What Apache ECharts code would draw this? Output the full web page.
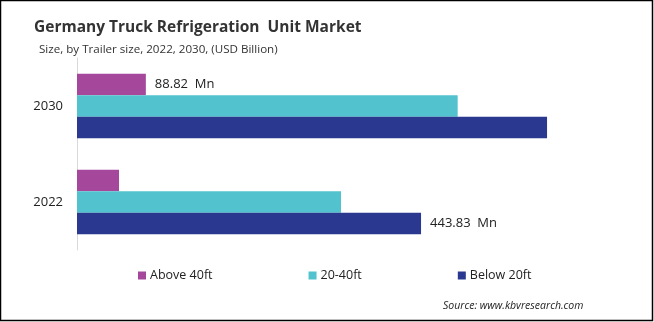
<!DOCTYPE html>
<html>
<head>
<meta charset="utf-8">
<script src="https://cdn.jsdelivr.net/npm/echarts@6/dist/echarts.min.js"></script>
<style>
html,body{margin:0;padding:0;background:#fff;}
#c{width:654px;height:322px;}
</style>
</head>
<body>
<div id="c"></div>
<script>
const categories = ['2022', '2030'];
const seriesNames = ['Above 40ft', '20-40ft', 'Below 20ft'];
const above40 = [54.2, 88.82];
const ft20to40 = [340.6, 491.1];
const below20 = [443.83, 606.4];
const labelTexts = { 'Above 40ft': [null, '88.82  Mn'], 'Below 20ft': ['443.83  Mn', null] };
const colors = { 'Above 40ft': '#A5489B', '20-40ft': '#52C3CE', 'Below 20ft': '#2B388F' };

const FONT = 'Open Sans';
function mk(name, vals) {
  return {
    name: name,
    type: 'bar',
    barGap: '0%',
    barCategoryGap: '33%',
    itemStyle: { color: colors[name] },
    data: vals.map((v, i) => {
      const t = labelTexts[name] && labelTexts[name][i];
      const d = { value: v };
      if (t) {
        d.label = { show: true, position: 'right', distance: 9, formatter: t,
          color: '#222', fontSize: 13, fontFamily: FONT };
      }
      return d;
    })
  };
}

const chart = echarts.init(document.getElementById('c'), null, { renderer: 'canvas' });
chart.setOption({
  animation: false,
  backgroundColor: '#fff',
  title: [
    { text: 'Germany Truck Refrigeration  Unit Market', left: 29, top: 15,
      textStyle: { fontFamily: FONT, fontWeight: 'bold', fontSize: 15.5, color: '#333' } },
    { text: 'Size, by Trailer size, 2022, 2030, (USD Billion)', left: 34, top: 39,
      textStyle: { fontFamily: FONT, fontWeight: 'normal', fontSize: 11.6, color: '#333' } },
    { text: 'Source: www.kbvresearch.com', left: 438, top: 296,
      textStyle: { fontFamily: FONT, fontStyle: 'italic', fontWeight: 'normal', fontSize: 10.5, color: '#222' } }
  ],
  legend: {
    data: seriesNames,
    left: 133, top: 264,
    itemWidth: 8, itemHeight: 8, itemGap: 96,
    icon: 'rect',
    textStyle: { fontFamily: FONT, fontSize: 12.5, color: '#222', padding: [0,0,0,-1] }
  },
  grid: { left: 77, top: 58, height: 192, width: 542.6 },
  xAxis: { type: 'value', min: 0, max: 700, show: false },
  yAxis: {
    type: 'category', data: categories,
    axisLine: { show: true, lineStyle: { color: '#d9d9d9', width: 1 } },
    axisTick: { show: false },
    axisLabel: { margin: 14, fontFamily: FONT, fontSize: 13, color: '#222' }
  },
  graphic: [{
    type: 'rect', shape: { x: 0.5, y: 0.5, width: 652, height: 320 },
    style: { fill: null, stroke: '#000', lineWidth: 1.5 }, silent: true, z: 100
  }],
  series: [mk('Above 40ft', above40), mk('20-40ft', ft20to40), mk('Below 20ft', below20)]
});
</script>
</body>
</html>
